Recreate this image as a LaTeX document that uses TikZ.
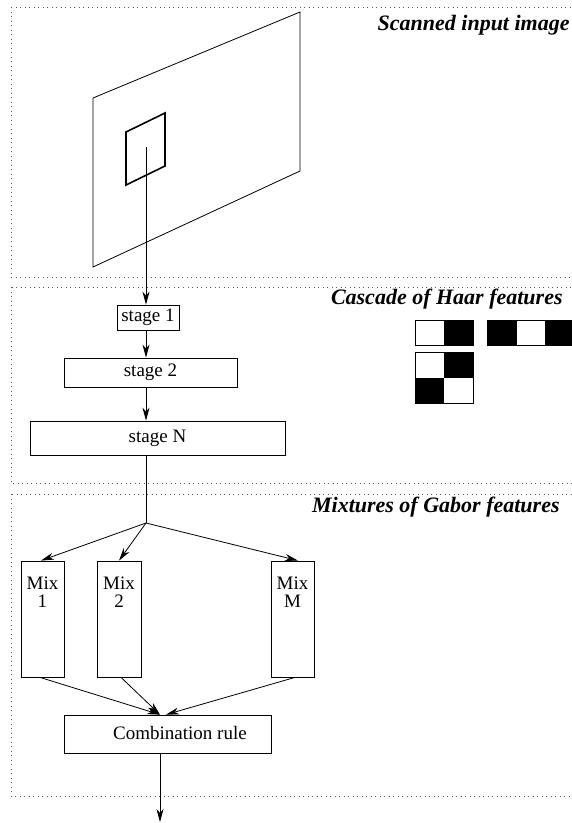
\documentclass[tikz,border=0pt]{standalone}
\usepackage{fontspec}
\setmainfont{Liberation Serif}
\usetikzlibrary{arrows.meta}
\begin{document}
\begin{tikzpicture}[x=1pt,y=-1pt,
  line width=0.8pt,
  arr/.style={-{Stealth[length=13pt,width=7pt,inset=4pt]}},
  frame/.style={draw=black!65, line width=1pt, dash pattern=on 1pt off 3.5pt},
  title/.style={font=\fontsize{22}{24}\selectfont\bfseries\itshape, anchor=base east, inner sep=0pt},
  stagebox/.style={draw, inner sep=0pt, font=\fontsize{19}{19}\selectfont},
  mixbox/.style={draw, inner sep=0pt, minimum width=43pt, minimum height=116pt},
  txt/.style={font=\fontsize{19}{18}\selectfont, align=center, inner sep=0pt}
]
\useasboundingbox (0,0) rectangle (572,823);
% section frames
\draw[frame] (11,7) rectangle (590,277);
\draw[frame] (11,287) rectangle (590,483);
\draw[frame] (11,494) rectangle (590,796);
% titles
\node[title] (t1) at (570,30) {Scanned input image};
\node[title] (t2) at (563,304) {Cascade of Haar features};
\node[title] (t3) at (560,512) {Mixtures of Gabor features};
% scanned image
\draw (93,98) -- (300,12) -- (300,171) -- (93,267) -- cycle;
\draw[line width=1.6pt] (126,132) -- (165,113) -- (165,166) -- (126,185) -- cycle;
\coordinate (src) at (146,147);
% cascade
\node[stagebox, minimum width=62pt, minimum height=25pt] (s1) at (148,317.5) {stage 1};
\node[stagebox, minimum width=173pt, minimum height=29pt] (s2) at (150.5,372.5) {stage 2};
\node[stagebox, minimum width=255pt, minimum height=34pt] (sN) at (157.5,438) {stage N};
\draw[arr] (src) -- (src |- s1.north);
\draw[arr] (src |- s1.south) -- (src |- s2.north);
\draw[arr] (src |- s2.south) -- (src |- sN.north);
% haar features
\fill (444,320) rectangle (473,345);
\draw (415,320) rectangle (473,345);
\fill (487,320) rectangle (517,345);
\fill (545,320) rectangle (575,345);
\draw (487,320) rectangle (575,345);
\fill (444,352) rectangle (473,378);
\fill (415,378) rectangle (444,403);
\draw (415,352) rectangle (473,403);
% mixtures
\coordinate (fork) at (146,523);
\draw (fork |- sN.south) -- (fork);
\node[mixbox] (m1) at (42.5,619) {};
\node[mixbox, minimum width=44pt] (m2) at (119,619) {};
\node[mixbox] (mM) at (292.5,619) {};
\node[txt, anchor=north] (m1t) at ([yshift=-16pt]m1.north) {Mix\\1};
\node[txt, anchor=north] (m2t) at ([yshift=-16pt]m2.north) {Mix\\2};
\node[txt, anchor=north] (mMt) at ([yshift=-16pt]mM.north) {Mix\\M};
\draw[arr] (fork) -- ([xshift=-1.5pt]m1.north);
\draw[arr] (fork) -- (m2.north);
\draw[arr] (fork) -- ([xshift=5.5pt]mM.north);
\node[draw, minimum width=207pt, minimum height=38pt, inner sep=0pt] (comb) at (167.5,734) {};
\node[txt] (combt) at (180,733) {Combination rule};
\draw[arr] ([xshift=-2.5pt]m1.south) -- ([xshift=-7.5pt]comb.north);
\draw[arr] ([xshift=2pt]m2.south) -- ([xshift=-7.5pt]comb.north);
\draw[arr] ([xshift=2.5pt]mM.south) -- ([xshift=-1.5pt]comb.north);
\coordinate (out) at (160,822);
\draw[arr] (out |- comb.south) -- (out);
\end{tikzpicture}
\end{document}
